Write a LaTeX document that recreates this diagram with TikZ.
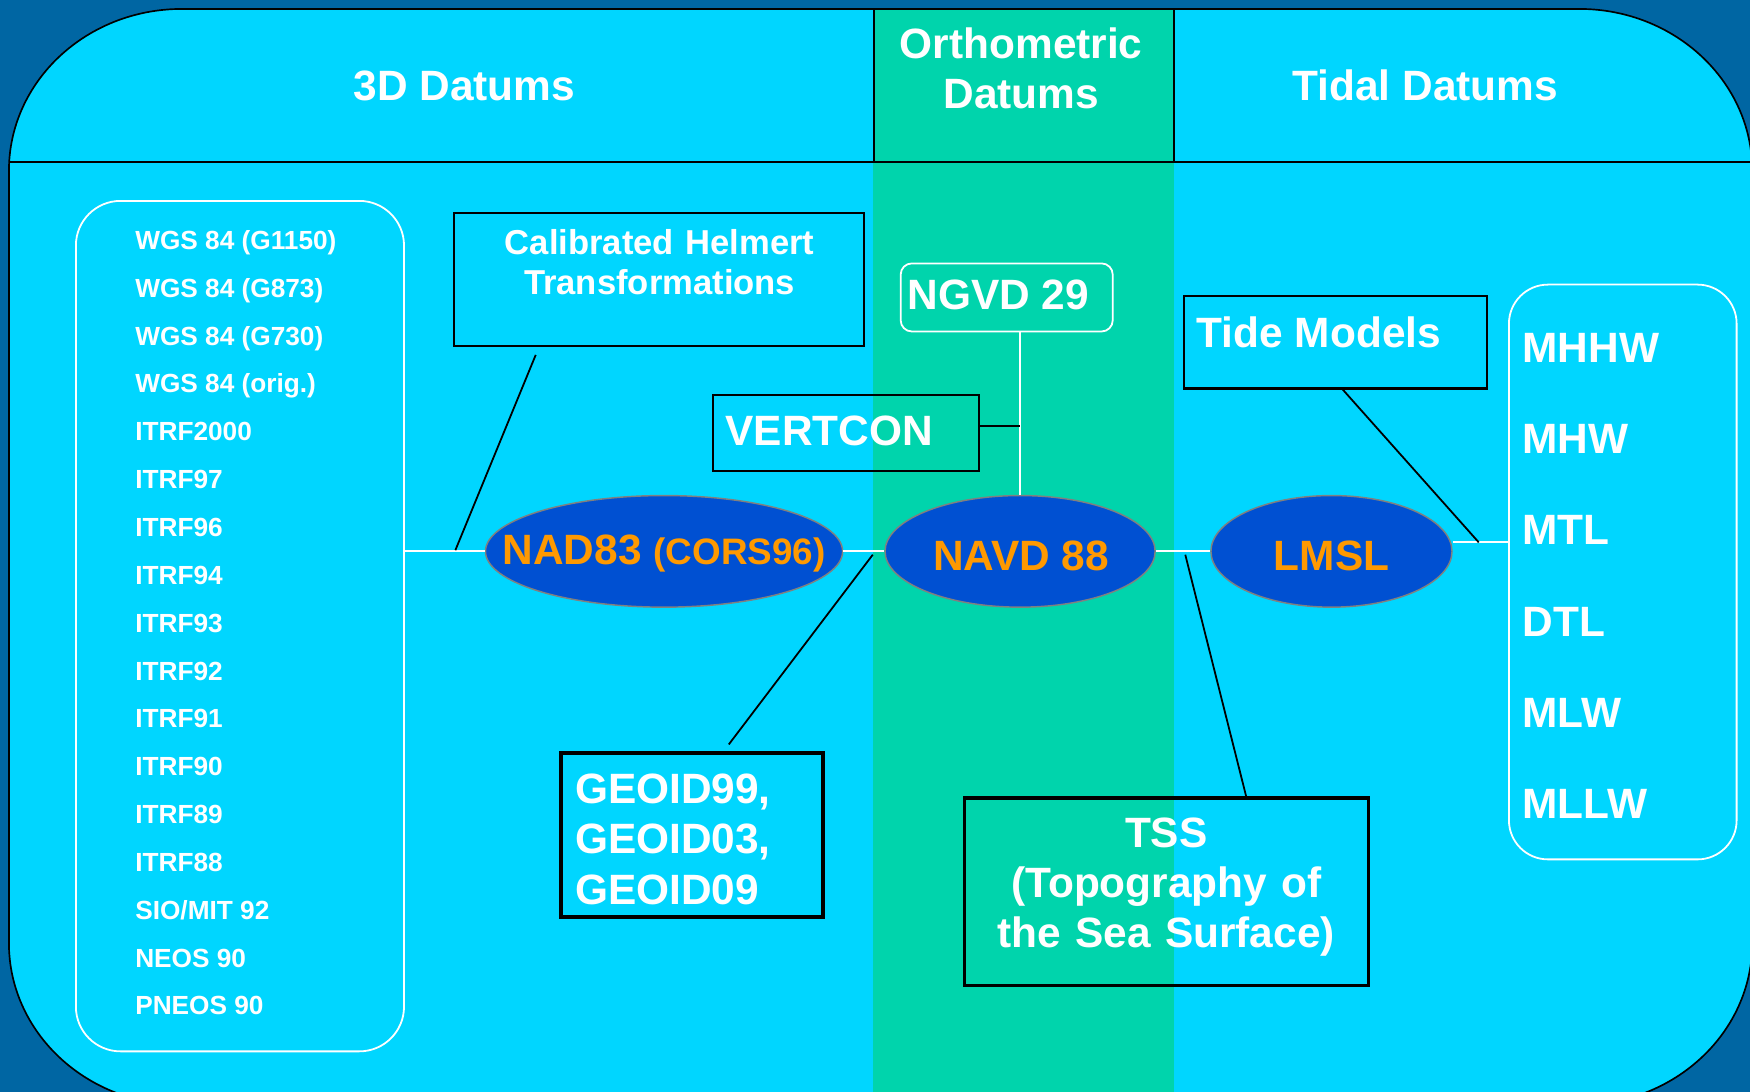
\documentclass[tikz,border=0pt]{standalone}
\usepackage{fontspec}
\setmainfont{Liberation Sans}
\usetikzlibrary{shapes.geometric,calc}

\definecolor{deepblue}{RGB}{0,102,163}
\definecolor{skycyan}{RGB}{0,214,255}
\definecolor{seagreen}{RGB}{0,212,172}
\definecolor{datumblue}{RGB}{0,80,210}
\definecolor{datumorange}{RGB}{255,153,0}

\begin{document}
\begin{tikzpicture}[x=1pt,y=-1pt,
  bigtext/.style={font=\fontsize{38}{45}\selectfont\bfseries, text=white, inner sep=0pt},
  listtext/.style={font=\fontsize{23.5}{28}\selectfont\bfseries, text=white, inner sep=0pt, anchor=base west},
  blackbox/.style={draw=black, line width=2pt, inner sep=0pt},
  whitebox/.style={draw=white, line width=1.6pt, inner sep=0pt},
  datum/.style={ellipse, fill=datumblue, draw=gray, line width=1.3pt, inner sep=0pt, minimum height=100pt},
  datumtext/.style={font=\fontsize{38}{45}\selectfont\bfseries, text=datumorange, inner sep=0pt, anchor=base},
  wline/.style={draw=white, line width=1.8pt},
  bline/.style={draw=black, line width=1.6pt},
]
\useasboundingbox (0,0) rectangle (1568,978);
\fill[deepblue] (0,0) rectangle (1568,978);

% the panel with its large curved corners
\def\panelpath{(8,153) .. controls (8,72.9) and (77.4,8) .. (163,8)
  -- (1415,8) .. controls (1500.6,8) and (1570,72.9) .. (1570,153)
  -- (1570,845) .. controls (1570,925.1) and (1500.6,990) .. (1415,990)
  -- (163,990) .. controls (77.4,990) and (8,925.1) .. (8,845) -- cycle}
\fill[skycyan] \panelpath;
\begin{scope}
  \clip \panelpath;
  \fill[seagreen] (782,0) rectangle (1052,990);
\end{scope}
\draw[black, line width=1.5pt] \panelpath;

% column headers
\draw[black, line width=1.5pt] (8,145) -- (1570,145);
\draw[black, line width=1.5pt] (783,8) -- (783,145);
\draw[black, line width=1.5pt] (1052,8) -- (1052,145);
\node[bigtext, anchor=base] (h3d) at (416,90) {3D Datums};
\node[bigtext, anchor=base, text width=260pt, align=center] (hortho) at (915,52) {Orthometric\\Datums};
\node[bigtext, anchor=base] (htidal) at (1277,90) {Tidal Datums};

% 3D datum list
\node[whitebox, rounded corners=40pt, minimum width=294pt, minimum height=762pt] (listbox) at (215,561) {};
\foreach \t [count=\i] in {WGS 84 (G1150), WGS 84 (G873), WGS 84 (G730), WGS 84 (orig.),
  ITRF2000, ITRF97, ITRF96, ITRF94, ITRF93, ITRF92, ITRF91, ITRF90, ITRF89, ITRF88,
  SIO/MIT 92, NEOS 90, PNEOS 90}
  \node[listtext] (item\i) at (121,{223.4+42.875*(\i-1)}) {\t};

% tidal datum list
\node[whitebox, rounded corners=35pt, minimum width=204pt, minimum height=515pt] (tidebox) at (1454,512.5) {};
\foreach \t [count=\i] in {MHHW, MHW, MTL, DTL, MLW, MLLW}
  \node[bigtext, anchor=base west] (tide\i) at (1364,{324.6+81.8*(\i-1)}) {\t};

% transformation boxes
\node[blackbox, minimum width=367pt, minimum height=119pt] (helmert) at (590.5,250.5) {};
\node[font=\fontsize{31}{36}\selectfont\bfseries, text=white, inner sep=0pt, anchor=base,
  text width=360pt, align=center] (helmerttext) at (591,228) {Calibrated Helmert\\Transformations};

\node[whitebox, rounded corners=10pt, minimum width=190pt, minimum height=61pt] (ngvd) at (902,266.5) {};
\node[bigtext, anchor=base west] (ngvdtext) at (813,277) {NGVD 29};

\node[blackbox, minimum width=238pt, minimum height=68pt] (vertcon) at (758,388) {};
\node[bigtext, anchor=base west] (vertcontext) at (650,399) {VERTCON};

\node[blackbox, minimum width=271pt, minimum height=83pt] (tidemodels) at (1196.5,306.5) {};
\node[bigtext, anchor=base west] (tidemodelstext) at (1072,311) {Tide Models};

\node[blackbox, line width=3.5pt, minimum width=234pt, minimum height=147pt] (geoid) at (620,748.5) {};
\node[bigtext, anchor=base west, text width=220pt, align=left] (geoidtext) at (515,720) {GEOID99,\\GEOID03,\\GEOID09};

\node[blackbox, line width=3pt, minimum width=362pt, minimum height=168pt] (tss) at (1045,799) {};
\node[bigtext, anchor=base, text width=350pt, align=center] (tsstext) at (1045,759) {TSS\\(Topography of\\the Sea Surface)};

% datum ellipses
\node[datum, minimum width=320pt] (nad) at (595,494) {};
\node[datumtext] (nadtext) at (595,506) {NAD83 {\fontsize{33}{40}\selectfont(CORS96)}};
\node[datum, minimum width=242pt] (navd) at (914,494) {};
\node[datumtext] (navdtext) at (915,511) {NAVD 88};
\node[datum, minimum width=216pt] (lmsl) at (1193,494) {};
\node[datumtext] (lmsltext) at (1193,511) {LMSL};

% connectors
\coordinate (helmertfoot) at (480,318);
\coordinate (helmertjoin) at (408,493);
\coordinate (geoidjoin) at (782,497);
\coordinate (geoidtip) at (653,667);
\coordinate (vertconjoin) at (914,382);
\coordinate (tssjoin) at (1062,497);
\coordinate (tidejoin) at (1325,486);

\draw[wline] (listbox.east |- nad.west) -- (nad.west);
\draw[bline] (helmertfoot) -- (helmertjoin);
\draw[wline] (nad.east) -- (navd.west);
\draw[bline] (geoidjoin) -- (geoidtip);
\draw[wline] (ngvd.south -| navd.north) -- (navd.north);
\draw[bline] (vertconjoin -| vertcon.east) -- (vertconjoin);
\draw[wline] (navd.east) -- (lmsl.west);
\draw[bline] (tssjoin) -- ($(tss.north west)!0.696!(tss.north east)$);
\draw[wline] (lmsl.east |- tidejoin) -- (tidebox.west |- tidejoin);
\draw[bline] ($(tidemodels.south west)!0.524!(tidemodels.south east)$) -- (tidejoin);
\end{tikzpicture}
\end{document}
